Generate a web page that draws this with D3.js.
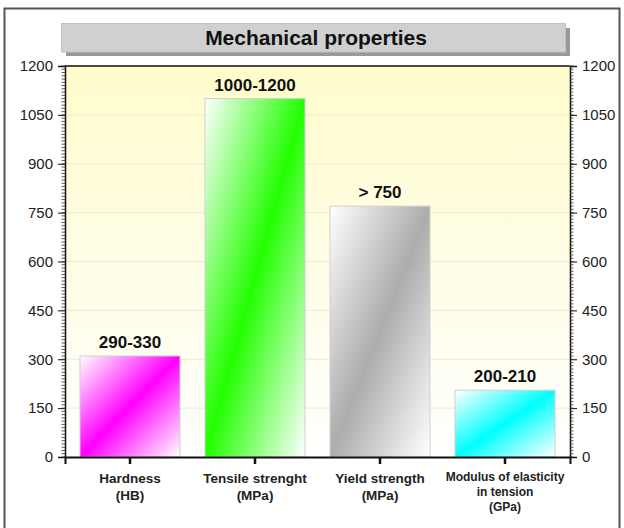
<!DOCTYPE html>
<html>
<head>
<meta charset="utf-8">
<script src="https://cdn.jsdelivr.net/npm/d3@7/dist/d3.min.js"></script>
<style>
  html, body { margin: 0; padding: 0; background: #fff; }
  svg { display: block; font-family: "Liberation Sans", Arial, sans-serif; }
</style>
</head>
<body>
<svg id="chart" width="624" height="528"></svg>
<script>
// Mechanical properties: one bar per property, labelled with its range.
const categories = [
  "Hardness\n(HB)",
  "Tensile strenght\n(MPa)",
  "Yield strength\n(MPa)",
  "Modulus of elasticity\nin tension\n(GPa)"
];
const values = [310, 1100, 770, 205];
const valueLabels = ["290-330", "1000-1200", "> 750", "200-210"];
const barColors = ["#ff00ff", "#22ff00", "#acacac", "#00ffff"];
const yTicks = [0, 150, 300, 450, 600, 750, 900, 1050, 1200];
const title = "Mechanical properties";

const svg = d3.select("#chart");
const plot = { left: 65, right: 570, top: 66, bottom: 457 };

const x = d3.scaleBand()
  .domain(categories)
  .range([plot.left, plot.right])
  .paddingInner(0.2)
  .paddingOuter(0.12);

const y = d3.scaleLinear()
  .domain([0, 1200])
  .range([plot.bottom, plot.top]);

const defs = svg.append("defs");

// Background: pale yellow fading to white toward the baseline
const bg = defs.append("linearGradient")
  .attr("id", "bgGrad").attr("x1", 0).attr("y1", 0).attr("x2", 0).attr("y2", 1);
bg.append("stop").attr("offset", "0%").attr("stop-color", "#fffccc");
bg.append("stop").attr("offset", "100%").attr("stop-color", "#ffffff");

// Diagonal bar fills: white corners, saturated band along the anti-diagonal
barColors.forEach((c, i) => {
  const g = defs.append("linearGradient")
    .attr("id", "barGrad" + i)
    .attr("x1", 0).attr("y1", 0).attr("x2", 1).attr("y2", 1);
  g.append("stop").attr("offset", "0%").attr("stop-color", "#ffffff");
  g.append("stop").attr("offset", "50%").attr("stop-color", c);
  g.append("stop").attr("offset", "100%").attr("stop-color", "#ffffff");
});

// Outer frame
svg.append("path")
  .attr("d", "M4.5,528 V8.5 H619.5 V528")
  .attr("fill", "none")
  .attr("stroke", "#555")
  .attr("stroke-width", 2);

// Title box with drop shadow
svg.append("rect")
  .attr("x", 66).attr("y", 28).attr("width", 504).attr("height", 28)
  .attr("fill", "#999");
svg.append("rect")
  .attr("x", 61.5).attr("y", 23.5).attr("width", 504).attr("height", 28.5)
  .attr("fill", "#d0d0d0").attr("stroke", "#c0c0c0");
svg.append("text")
  .attr("x", 316).attr("y", 45)
  .attr("text-anchor", "middle")
  .attr("font-size", 21).attr("font-weight", "bold").attr("fill", "#111")
  .text(title);

// Plot background
svg.append("rect")
  .attr("x", plot.left).attr("y", plot.top)
  .attr("width", plot.right - plot.left).attr("height", plot.bottom - plot.top)
  .attr("fill", "url(#bgGrad)");

// Horizontal gridlines
svg.append("g")
  .selectAll("line")
  .data(yTicks.slice(1, -1))
  .join("line")
  .attr("x1", plot.left).attr("x2", plot.right)
  .attr("y1", d => y(d)).attr("y2", d => y(d))
  .attr("stroke", "#ecead0").attr("stroke-width", 1);

// Bars
svg.append("g")
  .selectAll("rect")
  .data(values)
  .join("rect")
  .attr("x", (d, i) => x(categories[i]))
  .attr("y", d => y(d))
  .attr("width", x.bandwidth())
  .attr("height", d => y(0) - y(d))
  .attr("fill", (d, i) => `url(#barGrad${i})`)
  .attr("stroke", "#cfcfcf").attr("stroke-width", 1);

// Value labels
svg.append("g")
  .selectAll("text")
  .data(values)
  .join("text")
  .attr("x", (d, i) => x(categories[i]) + x.bandwidth() / 2)
  .attr("y", d => y(d) - 8)
  .attr("text-anchor", "middle")
  .attr("font-size", 17).attr("font-weight", "bold").attr("fill", "#111")
  .text((d, i) => valueLabels[i]);

// Minor ticks every 10 units
const minor = d3.range(0, 1201, 10);

function yAxis(gen, xPos) {
  const g = svg.append("g").attr("transform", `translate(${xPos},0)`);
  g.call(gen.tickValues(yTicks).tickFormat(d3.format("d")).tickSize(7).tickPadding(5));
  g.select(".domain").attr("stroke", "#111").attr("stroke-width", 1.5);
  g.selectAll(".tick line").attr("stroke", "#111");
  g.selectAll(".tick text")
    .attr("font-size", 15).attr("font-family", "Liberation Sans, Arial, sans-serif")
    .attr("fill", "#222");
  return g;
}

const left = yAxis(d3.axisLeft(y), plot.left);
const right = yAxis(d3.axisRight(y), plot.right);

left.append("g").selectAll("line").data(minor).join("line")
  .attr("x1", -3.5).attr("x2", 0)
  .attr("y1", d => y(d)).attr("y2", d => y(d))
  .attr("stroke", "#333").attr("stroke-width", 0.8);
right.append("g").selectAll("line").data(minor).join("line")
  .attr("x1", 0).attr("x2", 3.5)
  .attr("y1", d => y(d)).attr("y2", d => y(d))
  .attr("stroke", "#333").attr("stroke-width", 0.8);

// Top border of the plot
svg.append("line")
  .attr("x1", plot.left).attr("x2", plot.right)
  .attr("y1", plot.top).attr("y2", plot.top)
  .attr("stroke", "#111").attr("stroke-width", 1.5);

// Category axis
const xAxis = svg.append("g")
  .attr("transform", `translate(0,${plot.bottom})`)
  .call(d3.axisBottom(x).tickSize(7).tickFormat(""));
xAxis.select(".domain").attr("stroke", "#111").attr("stroke-width", 2);
xAxis.selectAll(".tick line").attr("stroke", "#111").attr("stroke-width", 2.5);

xAxis.selectAll(".tick").each(function (d) {
  const lines = d.split("\n");
  const small = lines.length > 2;
  const fs = small ? 12 : 13.5;
  const lh = small ? 15 : 17;
  const t = d3.select(this).append("text")
    .attr("text-anchor", "middle")
    .attr("font-size", fs).attr("font-weight", "bold").attr("fill", "#222")
    .attr("font-family", "Liberation Sans, Arial, sans-serif");
  lines.forEach((ln, k) => {
    t.append("tspan").attr("x", 0).attr("y", (small ? 24 : 26) + k * lh).text(ln);
  });
});
</script>
</body>
</html>
